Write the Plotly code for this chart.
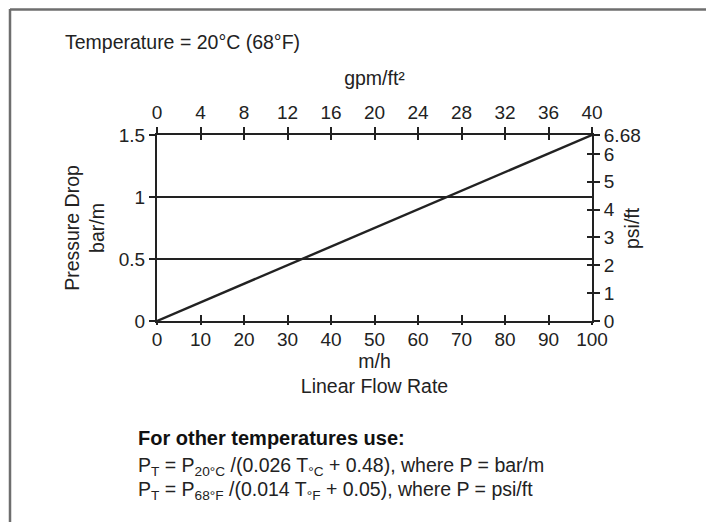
import plotly.graph_objects as go

# Data
flow_mh = [0, 100]            # m/h
drop_barm = [0, 1.5]          # bar/m
x_ticks = [0, 10, 20, 30, 40, 50, 60, 70, 80, 90, 100]
x2_ticks = [0, 4, 8, 12, 16, 20, 24, 28, 32, 36, 40]
y_ticks = [0, 0.5, 1, 1.5]
y_ticklabels = ["0", "0.5", "1", "1.5"]
y2_ticks = [0, 1, 2, 3, 4, 5, 6, 6.68]
y2_ticklabels = ["0", "1", "2", "3", "4", "5", "6", "6.68"]
x_range = [0, 100]
x2_range = [0, 40]
y_range = [0, 1.5]
y2_range = [0, 6.68]

FONT = "Liberation Sans, Arial, sans-serif"
INK = "#222222"
TS = 19    # tick font size
LS = 19.5  # label font size
tickfont = dict(family=FONT, size=TS, color=INK)

OFF = 8  # page body offset
W, H = 714 - OFF, 522 - OFF
PL, PR, PT, PB = 157 - OFF, 592 - OFF, 135 - OFF, 321 - OFF  # plot area in figure px

fig = go.Figure()
fig.add_trace(go.Scatter(x=flow_mh, y=drop_barm, mode="lines",
                         line=dict(color=INK, width=2.4), showlegend=False,
                         hoverinfo="skip"))
fig.add_trace(go.Scatter(x=x2_range, y=y2_range, xaxis="x2", yaxis="y2",
                         mode="lines", line=dict(width=0), showlegend=False,
                         hoverinfo="skip"))

common_line = dict(showline=True, linecolor=INK, linewidth=2, zeroline=False,
                   tickcolor=INK, tickwidth=1.6, tickfont=tickfont,
                   fixedrange=True)

fig.update_layout(
    width=W, height=H,
    margin=dict(l=PL, r=W - PR, t=PT, b=H - PB),
    paper_bgcolor="white", plot_bgcolor="white",
    font=dict(family=FONT, size=LS, color=INK),
    xaxis=dict(range=x_range, tickvals=x_ticks, ticks="inside", ticklen=6,
               showgrid=False, side="bottom", ticklabelstandoff=0,
               title=dict(text="m/h<br>Linear Flow Rate",
                          font=dict(family=FONT, size=LS, color=INK), standoff=4),
               **common_line),
    xaxis2=dict(range=x2_range, tickvals=x2_ticks, ticks="outside", ticklen=6,
                showgrid=False, side="top", overlaying="x", anchor="y",
                title=dict(text="gpm/ft²", font=dict(family=FONT, size=LS, color=INK),
                           standoff=12),
                **common_line),
    yaxis=dict(range=y_range, tickvals=y_ticks, ticktext=y_ticklabels,
               ticks="outside", ticklen=6, showgrid=True, gridcolor=INK,
               gridwidth=2,
               title=dict(text="Pressure Drop<br>bar/m",
                          font=dict(family=FONT, size=LS, color=INK), standoff=9),
               **common_line),
    yaxis2=dict(range=y2_range, tickvals=y2_ticks, ticktext=y2_ticklabels,
                ticks="outside", ticklen=6, showgrid=False, side="right",
                overlaying="y", anchor="x", **common_line),
)

# Extra tick halves so ticks cross the axis lines
fig.update_layout(
    xaxis3=dict(range=x_range, tickvals=x_ticks, ticks="outside", ticklen=3,
                showticklabels=False, showline=False, showgrid=False,
                zeroline=False, overlaying="x", side="bottom", anchor="y",
                tickcolor=INK, tickwidth=1.6, fixedrange=True),
    xaxis4=dict(range=x2_range, tickvals=x2_ticks, ticks="inside", ticklen=5,
                showticklabels=False, showline=False, showgrid=False,
                zeroline=False, overlaying="x", side="top", anchor="y",
                tickcolor=INK, tickwidth=1.6, fixedrange=True),
    yaxis3=dict(range=y_range, tickvals=y_ticks, ticks="inside", ticklen=5,
                showticklabels=False, showline=False, showgrid=False,
                zeroline=False, overlaying="y", side="left", anchor="x",
                tickcolor=INK, tickwidth=1.6, fixedrange=True),
    yaxis4=dict(range=y2_range, tickvals=y2_ticks, ticks="inside", ticklen=5,
                showticklabels=False, showline=False, showgrid=False,
                zeroline=False, overlaying="y", side="right", anchor="x",
                tickcolor=INK, tickwidth=1.6, fixedrange=True),
)
for xa, ya in [("x3", "y"), ("x4", "y"), ("x", "y3"), ("x", "y4")]:
    fig.add_trace(go.Scatter(x=[None], y=[None], xaxis=xa, yaxis=ya,
                             showlegend=False, hoverinfo="skip"))


def px_x(px):
    """screen px -> paper x"""
    return (px - OFF - PL) / (PR - PL)


def px_y(py):
    """screen px -> paper y"""
    return (PB - (py - OFF)) / (PB - PT)


# Frame (left and top border of the figure panel)
fig.add_shape(type="line", xref="paper", yref="paper",
              x0=px_x(10), x1=px_x(10), y0=px_y(530), y1=px_y(9),
              line=dict(color="#6e6e6e", width=2.5))
fig.add_shape(type="line", xref="paper", yref="paper",
              x0=px_x(10), x1=px_x(720), y0=px_y(9.5), y1=px_y(9.5),
              line=dict(color="#6e6e6e", width=2.5))

# right axis title
fig.add_annotation(text="psi/ft", xref="paper", yref="paper",
                   x=px_x(632), y=px_y(228), xanchor="center", yanchor="middle",
                   textangle=-90, showarrow=False,
                   font=dict(family=FONT, size=LS, color=INK))

fig.add_annotation(text="Temperature = 20°C (68°F)", xref="paper", yref="paper",
                   x=px_x(63), y=px_y(42), xanchor="left", yanchor="middle",
                   showarrow=False, font=dict(family=FONT, size=LS, color=INK))
fig.add_annotation(text="<b>For other temperatures use:</b>", xref="paper", yref="paper",
                   x=px_x(136), y=px_y(438), xanchor="left", yanchor="middle",
                   showarrow=False, font=dict(family=FONT, size=20, color="#111111"))
fig.add_annotation(text="P<sub>T</sub> = P<sub>20°C</sub> /(0.026 T<sub>°C</sub> + 0.48), where P = bar/m",
                   xref="paper", yref="paper",
                   x=px_x(136), y=px_y(466), xanchor="left", yanchor="middle",
                   showarrow=False, font=dict(family=FONT, size=LS, color=INK))
fig.add_annotation(text="P<sub>T</sub> = P<sub>68°F</sub> /(0.014 T<sub>°F</sub> + 0.05), where P = psi/ft",
                   xref="paper", yref="paper",
                   x=px_x(136), y=px_y(490), xanchor="left", yanchor="middle",
                   showarrow=False, font=dict(family=FONT, size=LS, color=INK))

fig.write_html("out.html")
